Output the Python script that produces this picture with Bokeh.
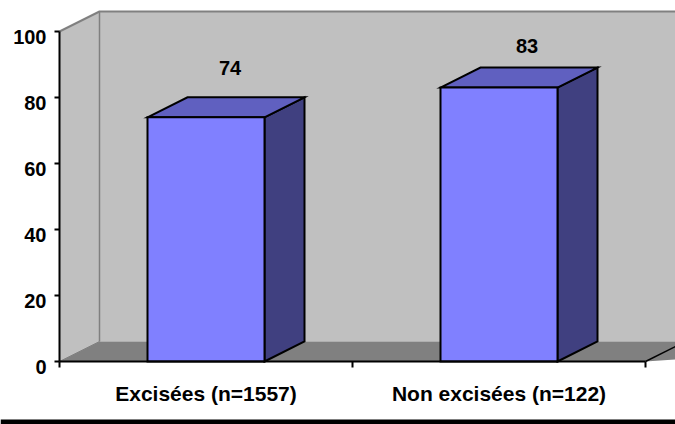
from bokeh.plotting import figure
from bokeh.embed import file_html
from bokeh.resources import INLINE
from bokeh.models import FixedTicker, Range1d, LinearAxis
from bokeh.core.properties import value

categories = ["Excisées (n=1557)", "Non excisées (n=122)"]
values = [74, 83]
y_ticks = [0, 20, 40, 60, 80, 100]

# layout and label placement
W, H = 675, 424
PX_X = 293.0   # px per category
PX_Y = 3.3     # px per percent
LEFT, BOTTOM = 59, 63
DX, DY = 40 / PX_X, 20 / PX_Y
BAR_W = 117 / PX_X
LABEL_DY = 5.5 / PX_Y
LABEL_OFFSETS = [(24 / PX_X, 88.8), (28 / PX_X, 95.5)]
FONT = "Liberation Sans"

x_start = -0.5 - LEFT / PX_X
y_start = -BOTTOM / PX_Y
y_end = y_start + H / PX_Y
p = figure(width=W, height=H, output_backend="svg", toolbar_location=None,
           x_range=Range1d(x_start, x_start + W / PX_X),
           y_range=Range1d(y_start, y_end),
           min_border=0)
p.extra_y_ranges = {"labels": Range1d(y_start + LABEL_DY, y_end + LABEL_DY)}
p.outline_line_color = None
p.grid.visible = False

x0, x1, y1 = -0.5, 1.5, 100
far = x1 + 1
# walls and floor
p.patch([x0, x0 + DX, x0 + DX, x0], [0, DY, y1 + DY, y1], fill_color="#c0c0c0",
        line_color=None)
p.patch([x0 + DX, far, far, x0 + DX], [DY, DY, y1 + DY, y1 + DY], fill_color="#c0c0c0",
        line_color=None)
p.patch([x0, x0 + DX, far, x1], [0, DY, DY, 0], fill_color="#808080", line_color=None)
p.line([x0, x0 + DX, far], [y1, y1 + DY, y1 + DY], line_color="#808080", line_width=2)
p.line([x0 + DX, x0 + DX], [DY, y1 + DY], line_color="#808080", line_width=1.5)
p.line([x0, x0 + DX], [0, DY], line_color="#808080", line_width=1)
p.line([x1, x1 + DX], [0, DY], line_color="black", line_width=1.5)

# bars
for i, v in enumerate(values):
    l, r = i - BAR_W / 2, i + BAR_W / 2
    p.patch([r, r + DX, r + DX, r], [0, DY, v + DY, v], fill_color="#404080",
            line_color="black", line_width=2, line_join="miter")
    p.patch([l, l + DX, r + DX, r], [v, v + DY, v + DY, v], fill_color="#6060c0",
            line_color="black", line_width=2, line_join="miter")
    p.patch([l, r, r, l], [0, 0, v, v], fill_color="#8080ff",
            line_color="black", line_width=2, line_join="miter")

p.text([i + off[0] for i, off in enumerate(LABEL_OFFSETS)],
       [off[1] for off in LABEL_OFFSETS], text=[str(v) for v in values],
       text_font=value(FONT), text_font_style="bold", text_font_size="20px",
       text_align="center", text_baseline="middle", text_color="black")

# black band along the bottom of the picture
p.quad(left=x_start, right=x_start + W / PX_X, bottom=y_start, top=y_start + 5 / PX_Y,
       fill_color="black", line_color=None)

# y axis: line and ticks
p.yaxis.ticker = FixedTicker(ticks=y_ticks)
p.yaxis.fixed_location = x0
p.yaxis.bounds = (0, 100)
p.yaxis.axis_line_color = "black"
p.yaxis.axis_line_width = 2
p.yaxis.major_tick_line_color = "black"
p.yaxis.major_tick_line_width = 2
p.yaxis.major_tick_in = 0
p.yaxis.major_tick_out = 5
p.yaxis.minor_tick_line_color = None
p.yaxis.major_label_text_font_size = "0px"
p.yaxis.major_label_text_color = None

# y axis: the labels, which sit a little below their ticks
ylabels = LinearAxis(y_range_name="labels", ticker=FixedTicker(ticks=y_ticks),
                     fixed_location=x0, axis_line_color=None,
                     major_tick_line_color=None, minor_tick_line_color=None,
                     major_tick_in=0, major_tick_out=5, major_label_standoff=8,
                     major_label_text_font=FONT, major_label_text_font_style="bold",
                     major_label_text_font_size="20px", major_label_text_color="black")
p.add_layout(ylabels, "left")

p.xaxis.ticker = FixedTicker(ticks=list(range(len(categories))),
                             minor_ticks=[-0.5, 0.5, 1.5])
p.xaxis.fixed_location = 0
p.xaxis.bounds = (-0.5, 1.5)
p.xaxis.major_label_overrides = {i: c for i, c in enumerate(categories)}
p.xaxis.axis_line_color = "black"
p.xaxis.axis_line_width = 2
p.xaxis.major_tick_line_color = None
p.xaxis.major_tick_in = 0
p.xaxis.major_tick_out = 0
p.xaxis.minor_tick_line_color = "black"
p.xaxis.minor_tick_line_width = 2
p.xaxis.minor_tick_in = 0
p.xaxis.minor_tick_out = 6
p.xaxis.major_label_standoff = 14
p.xaxis.major_label_text_font = FONT
p.xaxis.major_label_text_font_style = "bold"
p.xaxis.major_label_text_font_size = "21px"
p.xaxis.major_label_text_color = "black"

open("out.html", "w").write(file_html(p, INLINE))
